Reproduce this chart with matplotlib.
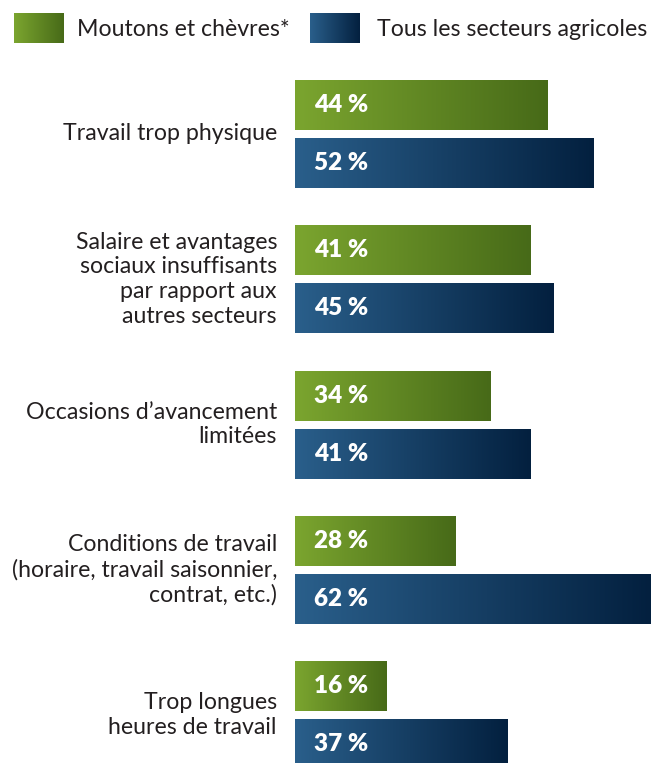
import matplotlib
matplotlib.use("Agg")
import matplotlib.pyplot as plt
import numpy as np
from matplotlib.colors import LinearSegmentedColormap

categories = [
    "Travail trop physique",
    "Salaire et avantages\nsociaux insuffisants\npar rapport aux\nautres secteurs",
    "Occasions d\u2019avancement\nlimitées",
    "Conditions de travail\n(horaire, travail saisonnier,\ncontrat, etc.)",
    "Trop longues\nheures de travail",
]
moutons = [44, 41, 34, 28, 16]
tous = [52, 45, 41, 62, 37]
series_names = ["Moutons et chèvres*", "Tous les secteurs agricoles"]

FONT = "Lato"
FS = 16.7
W, H = 651, 763
fig = plt.figure(figsize=(W / 100, H / 100), dpi=100)

green_cmap = LinearSegmentedColormap.from_list("g", ["#7ba52f", "#476a18"])
blue_cmap = LinearSegmentedColormap.from_list("b", ["#2a5f8b", "#03203f"])
grad = np.linspace(0, 1, 256).reshape(1, -1)

x0 = 295
ax = fig.add_axes([x0 / W, 0, (W - x0) / W, 1])
ax.set_xlim(0, 62)
ax.set_ylim(H, 0)
ax.axis("off")

group0 = 134
gap = 145.3
off = 29
bh = 50

def gbar(y, v, cmap):
    b = ax.barh(y, v, height=bh, left=0, color="none", edgecolor="none")[0]
    im = ax.imshow(grad, extent=[0, v, y + bh / 2, y - bh / 2], cmap=cmap,
                   aspect="auto", interpolation="bilinear", zorder=1)
    im.set_clip_path(b)
    ax.text(3.3, y, f"{v} %", color="white", fontsize=17.5, fontweight="heavy",
            family=FONT, va="center", ha="left", zorder=3)

for i, cat in enumerate(categories):
    c = group0 + gap * i
    gbar(c - off, moutons[i], green_cmap)
    gbar(c + off, tous[i], blue_cmap)
    fig.text(277 / W, 1 - c / H, cat, ha="right", va="center", fontsize=FS,
             family=FONT, color="#231f20", linespacing=1.22)

ax.set_xlim(0, 62)
ax.set_ylim(H, 0)

# legend
def swatch(xl, xr, cmap):
    sa = fig.add_axes([xl / W, 1 - 43 / H, (xr - xl) / W, 30 / H])
    sa.imshow(grad, cmap=cmap, aspect="auto", interpolation="bilinear")
    sa.axis("off")

swatch(14, 64, green_cmap)
fig.text(77 / W, 1 - 29 / H, series_names[0], ha="left", va="center",
         fontsize=FS, family=FONT, color="#231f20")
swatch(310, 360, blue_cmap)
fig.text(377 / W, 1 - 29 / H, series_names[1], ha="left", va="center",
         fontsize=FS, family=FONT, color="#231f20")

fig.savefig("out.png", dpi=100)
